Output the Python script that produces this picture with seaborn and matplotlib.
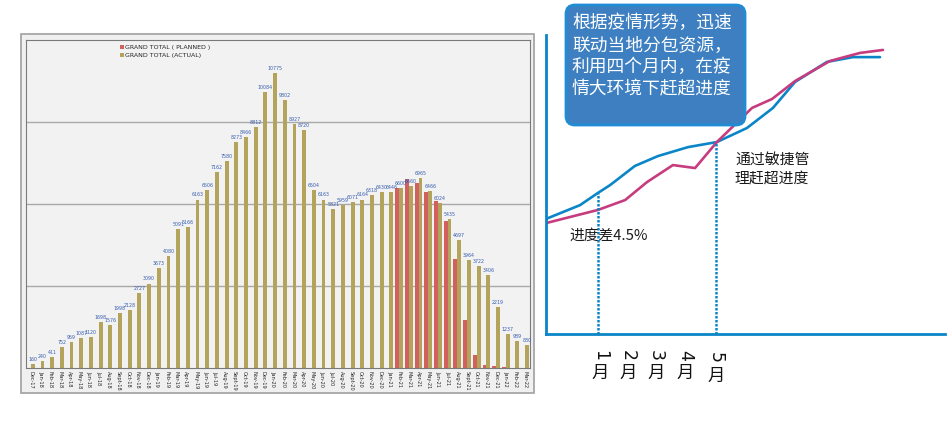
import numpy as np
import pandas as pd
import matplotlib
matplotlib.use("Agg")
import matplotlib.pyplot as plt
import seaborn as sns
from matplotlib.patches import Rectangle, FancyBboxPatch

# ---------------- data: left bar chart ----------------
months = ["Dec-17",
          "Jan-18", "Feb-18", "Mar-18", "Apr-18", "May-18", "Jun-18", "Jul-18", "Aug-18", "Sept-18", "Oct-18", "Nov-18", "Dec-18",
          "Jan-19", "Feb-19", "Mar-19", "Apr-19", "May-19", "Jun-19", "Jul-19", "Aug-19", "Sept-19", "Oct-19", "Nov-19", "Dec-19",
          "Jan-20", "Feb-20", "Mar-20", "Apr-20", "May-20", "Jun-20", "Jul-20", "Aug-20", "Sept-20", "Oct-20", "Nov-20", "Dec-20",
          "Jan-21", "Feb-21", "Mar-21", "Apr-21", "May-21", "Jun-21", "Jul-21", "Aug-21", "Sept-21", "Oct-21", "Nov-21", "Dec-21",
          "Jan-22", "Feb-22", "Mar-22"]

actual = [160,
          240, 411, 752, 959, 1087, 1120, 1698, 1576, 1998, 2128, 2727, 3090,
          3673, 4080, 5091, 5166, 6163, 6506, 7162, 7580, 8273, 8466, 8812, 10084,
          10775, 9802, 8927, 8720, 6504, 6163, 5821, 5959, 6071, 6164, 6318, 6430,
          6446, 6600, 6660, 6965, 6466, 6024, 5435, 4697, 3964, 3722, 3406, 2219,
          1237, 989, 830]

planned = [0,
           0, 0, 0, 0, 0, 0, 0, 0, 0, 0, 0, 0,
           0, 0, 0, 0, 0, 0, 0, 0, 0, 0, 0, 0,
           0, 0, 0, 0, 0, 0, 0, 0, 0, 0, 0, 0,
           0, 6580, 6900, 6780, 6450, 6120, 5380, 3980, 1760, 480, 110, 70,
           20, 10, 0]

series_names = ["GRAND TOTAL ( PLANNED )", "GRAND TOTAL (ACTUAL)"]
bar_colors = ["#d2605f", "#b4a35a"]

# ---------------- data: right progress sketch ----------------
blue_month = [-0.76, 0.39, 1.0, 1.41, 2.25, 3.03, 4.05, 5.03, 6.05, 6.93, 7.68, 8.76, 9.64, 10.56]
blue_prog = [38.5, 43.1, 47.2, 49.8, 56.2, 59.5, 62.5, 64.2, 68.9, 75.6, 84.3, 91.0, 92.6, 92.6]
red_month = [-0.76, 1.0, 1.92, 2.66, 3.54, 4.29, 5.03, 6.22, 6.9, 7.68, 8.86, 9.88, 10.66]
red_prog = [37.1, 41.5, 44.8, 50.8, 56.5, 55.5, 64.2, 75.6, 78.6, 84.6, 91.3, 94.0, 95.0]
line_names = ["计划", "实际"]
line_colors = ["#0a86c8", "#c63c7e"]
month_ticks = ["1", "2", "3", "4", "5"]
box_lines = ["根据疫情形势，迅速", "联动当地分包资源，", "利用四个月内，在疫", "情大环境下赶超进度"]
note_lines = ["通过敏捷管", "理赶超进度"]
gap_note = "进度差4.5%"

# ---------------- style ----------------
sns.set_theme(style="white")
plt.rcParams["font.family"] = ["Noto Sans CJK SC", "DejaVu Sans"]

W, H = 949, 430
fig = plt.figure(figsize=(W / 100, H / 100), dpi=100)
fig.patch.set_facecolor("white")

def fx(px):
    return px / W

def fy(py):
    return 1 - py / H

# outer frame of the bar chart panel
fig.add_artist(Rectangle((fx(21), fy(393)), fx(534) - fx(21), fy(34) - fy(393),
                         transform=fig.transFigure, facecolor="#f0f0f0",
                         edgecolor="#a0a0a0", lw=1.2, zorder=-2))

# ---------------- bar chart ----------------
ax = fig.add_axes([fx(26), fy(368), fx(530) - fx(26), fy(40) - fy(368)])
df = pd.DataFrame({
    "month": months * 2,
    "value": planned + actual,
    "series": [series_names[0]] * len(months) + [series_names[1]] * len(months),
})
sns.barplot(data=df, x="month", y="value", hue="series", order=months,
            hue_order=series_names, palette=bar_colors, width=0.8,
            linewidth=0, saturation=1, ax=ax)
ax.set_facecolor("#f2f2f2")
ax.set_xlim(-0.5, len(months) - 0.5)
ax.set_ylim(0, 12000)
ax.set_yticks([3000, 6000, 9000])
ax.set_yticklabels([])
ax.grid(axis="y", color="#a9a9a9", lw=1)
ax.set_axisbelow(True)
ax.tick_params(axis="y", length=0)
ax.tick_params(axis="x", length=0, pad=2)
ax.set_xticks(range(len(months)))
ax.set_xticklabels(months, rotation=270, fontsize=3.6, family="DejaVu Sans",
                   ha="center", va="top")
ax.set_xlabel("")
ax.set_ylabel("")
for s in ax.spines.values():
    s.set_color("#7a7a7a")
    s.set_linewidth(0.8)
ax.bar_label(ax.containers[1], labels=[str(v) for v in actual], fontsize=3.4,
             color="#3a5fb0", padding=1.5, family="DejaVu Sans")
handles, labels = ax.get_legend_handles_labels()
ax.legend(handles, labels, loc="upper left", bbox_to_anchor=(0.18, 0.995),
          frameon=False, prop={"size": 4.5, "family": "DejaVu Sans"},
          handlelength=0.6, handleheight=0.6, handletextpad=0.3,
          labelspacing=0.5, borderpad=0)

# ---------------- right progress sketch ----------------
ax2 = fig.add_axes([fx(546), fy(334), fx(945) - fx(546), fy(35) - fy(334)])
x_lo = -0.763
x_hi = (945 - 598) / 29.5 + 1
ldf = pd.DataFrame({
    "month": blue_month + red_month,
    "progress": blue_prog + red_prog,
    "line": [line_names[0]] * len(blue_month) + [line_names[1]] * len(red_month),
})
sns.lineplot(data=ldf, x="month", y="progress", hue="line", hue_order=line_names,
             palette=line_colors, sort=False, estimator=None, legend=False,
             linewidth=1.9, ax=ax2)
ax2.vlines([1, 5], 0, [blue_prog[2], blue_prog[7]], colors=line_colors[0],
           linestyles=(0, (1, 0.6)), lw=1.8)
ax2.set_xlim(x_lo, x_hi)
ax2.set_ylim(0, 100)
ax2.set_facecolor("none")
ax2.set_xticks([])
ax2.set_yticks([])
ax2.set_xlabel("")
ax2.set_ylabel("")
for k in ["top", "right"]:
    ax2.spines[k].set_visible(False)
for k in ["left", "bottom"]:
    ax2.spines[k].set_color(line_colors[0])
    ax2.spines[k].set_linewidth(2)

# ---------------- overlay annotations (pixel coordinates) ----------------
ov = fig.add_axes([0, 0, 1, 1])
ov.set_xlim(0, W)
ov.set_ylim(H, 0)
ov.axis("off")
ov.add_patch(FancyBboxPatch((566, 5), 179, 120,
                            boxstyle="round,pad=0,rounding_size=9",
                            facecolor="#3d7fc0", edgecolor="#1f8cd4", lw=2))
for yy, t in zip([23, 46, 67, 89], box_lines):
    ov.text(572, yy, t, color="white", fontsize=12.8, ha="left", va="center")
for yy, t in zip([160, 179], note_lines):
    ov.text(735, yy, t, color="#1a1a1a", fontsize=10.7, ha="left", va="center")
ov.text(569, 236, gap_note, color="#1a1a1a", fontsize=10.6, ha="left", va="center")
for (xx, dy), d in zip([(600, 0), (628, 0), (656, 0), (685, 0), (716, 3)], month_ticks):
    ov.text(xx, 355 + dy, d, rotation=-90, fontsize=12.5, color="#111111",
            ha="center", va="center", family="DejaVu Sans")
    ov.text(xx, 373 + dy, "月", fontsize=12.5, color="#111111",
            ha="center", va="center")

fig.savefig("out.png", dpi=100)
